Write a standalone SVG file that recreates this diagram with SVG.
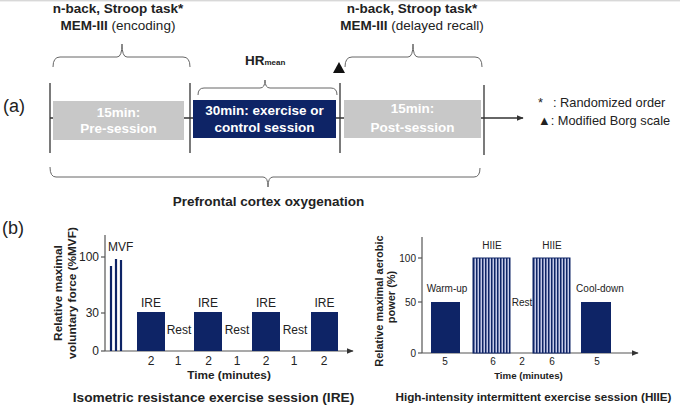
<svg xmlns="http://www.w3.org/2000/svg" width="680" height="407" viewBox="0 0 680 407">
<style>
text{font-family:"Liberation Sans",Arial,sans-serif;fill:#222}
.b{font-weight:bold}
.top{font-size:13.5px}
.box{font-size:13.5px;font-weight:bold;fill:#fff}
.leg{font-size:12.8px}
.lbl{font-size:18px}
.brace{fill:none;stroke:#666;stroke-width:1}
.tl{stroke:#333;stroke-width:1.3;fill:none}
.ax{stroke:#555;stroke-width:1.2;fill:none}
.navy{fill:#0e2466}
.t12{font-size:12px}
.t10{font-size:10px}
.mvf{stroke:#0e2466;stroke-width:2.2}
</style>
<defs>
<marker id="arr" viewBox="0 0 10 10" refX="9" refY="5" markerWidth="7" markerHeight="7" markerUnits="userSpaceOnUse" orient="auto">
<path d="M0,1 L10,5 L0,9 Z" fill="#333"/>
</marker>
<pattern id="stripes" patternUnits="userSpaceOnUse" x="473" y="0" width="3" height="10">
<rect x="0" y="0" width="3" height="10" fill="#c5cae8"/>
<rect x="0" y="0" width="1.5" height="10" fill="#0e2466"/>
</pattern>
</defs>
<rect x="0" y="0" width="680" height="407" fill="#fff"/>
<line x1="0" y1="0.8" x2="680" y2="0.8" stroke="#c8c8c8" stroke-width="1"/>

<!-- panel labels -->
<text class="lbl" x="3" y="112">(a)</text>
<text class="lbl" x="2" y="234">(b)</text>

<!-- top annotations -->
<g id="pre-tasks">
<text class="top b" x="118" y="12.5" text-anchor="middle">n-back, Stroop task*</text>
<text class="top" x="118" y="29.5" text-anchor="middle"><tspan class="b">MEM-III</tspan> (encoding)</text>
<path class="brace" d="M53,67 Q53,57 60,57 L117,57 Q122,57 122,44 Q122,57 127,57 L183,57 Q190,57 190,67"/>
</g>
<g id="hr-mean">
<text class="top b" x="245" y="65">HR<tspan font-size="8">mean</tspan></text>
<path class="brace" d="M198,95 Q198,88 204,88 L260,88 Q265,88 265,80 Q265,88 270,88 L331,88 Q337,88 337,95"/>
</g>
<g id="borg-marker">
<polygon points="333,73 345,73 339,62" fill="#111"/>
</g>
<g id="post-tasks">
<text class="top b" x="412" y="12.5" text-anchor="middle">n-back, Stroop task*</text>
<text class="top" x="412" y="29.5" text-anchor="middle"><tspan class="b">MEM-III</tspan> (delayed recall)</text>
<path class="brace" d="M345,67 Q345,57 352,57 L408,57 Q413,57 413,44 Q413,57 418,57 L475,57 Q482,57 482,67"/>
</g>

<!-- timeline connectors -->
<g id="timeline">
<line class="tl" x1="50" y1="118" x2="523" y2="118" marker-end="url(#arr)"/>
<line class="tl" x1="50" y1="83" x2="50" y2="153"/>
<line class="tl" x1="190" y1="83" x2="190" y2="153"/>
<line class="tl" x1="340" y1="83" x2="340" y2="153"/>
<line class="tl" x1="484" y1="85" x2="484" y2="155"/>
</g>

<g id="pre-session">
<rect x="53" y="101" width="131" height="39" fill="#c8c8c8"/>
<text class="box" x="118.5" y="117" text-anchor="middle">15min:</text>
<text class="box" x="118.5" y="133" text-anchor="middle">Pre-session</text>
</g>
<g id="main-session">
<rect x="193" y="100" width="143" height="38" class="navy"/>
<text class="box" x="264.5" y="115" text-anchor="middle">30min: exercise or</text>
<text class="box" x="264.5" y="132" text-anchor="middle">control session</text>
</g>
<g id="post-session">
<rect x="344" y="100" width="137" height="38" fill="#c8c8c8"/>
<text class="box" x="412.5" y="113" text-anchor="middle">15min:</text>
<text class="box" x="412.5" y="131.5" text-anchor="middle">Post-session</text>
</g>

<g id="legend">
<text class="leg" x="538" y="107">*</text>
<text class="leg" x="553" y="107">: Randomized order</text>
<text class="leg" x="538" y="125">▲: Modified Borg scale</text>
</g>

<g id="oxygenation">
<path class="brace" d="M50,167 Q50,177 56,177 L263,177 Q268,177 268,187 Q268,177 273,177 L474,177 Q480,177 480,168"/>
<text class="top b" x="268.5" y="206" text-anchor="middle">Prefrontal cortex oxygenation</text>
</g>

<!-- IRE chart -->
<g id="ire-chart">
<line class="ax" x1="105" y1="235" x2="105" y2="351"/>
<line class="ax" x1="105" y1="351" x2="353" y2="351" marker-end="url(#arr)"/>
<line class="ax" x1="101" y1="257" x2="105" y2="257"/>
<line class="ax" x1="101" y1="313" x2="105" y2="313"/>
<line class="ax" x1="101" y1="351" x2="105" y2="351"/>
<text class="t12" x="99" y="261" text-anchor="end">100</text>
<text class="t12" x="99" y="317" text-anchor="end">30</text>
<text class="t12" x="99" y="355" text-anchor="end">0</text>
<text class="b" font-size="11.8" transform="translate(62,293) rotate(-90)" text-anchor="middle">Relative maximal</text>
<text class="b" font-size="11.8" transform="translate(76,293) rotate(-90)" text-anchor="middle">voluntary force (%MVF)</text>
<line class="mvf" x1="111" y1="266" x2="111" y2="351"/>
<line class="mvf" x1="116" y1="259" x2="116" y2="351"/>
<line class="mvf" x1="121" y1="260" x2="121" y2="351"/>
<text class="t12" x="108" y="251">MVF</text>
<rect class="navy" x="137" y="312" width="28" height="39"/>
<rect class="navy" x="194" y="312" width="28" height="39"/>
<rect class="navy" x="252" y="312" width="28" height="39"/>
<rect class="navy" x="311" y="312" width="27" height="39"/>
<text class="t12" x="151" y="307" text-anchor="middle">IRE</text>
<text class="t12" x="208" y="307" text-anchor="middle">IRE</text>
<text class="t12" x="266" y="307" text-anchor="middle">IRE</text>
<text class="t12" x="324.5" y="307" text-anchor="middle">IRE</text>
<text class="t12" x="179" y="334" text-anchor="middle">Rest</text>
<text class="t12" x="237" y="334" text-anchor="middle">Rest</text>
<text class="t12" x="295" y="334" text-anchor="middle">Rest</text>
<text class="t12" x="151" y="365" text-anchor="middle">2</text>
<text class="t12" x="178" y="365" text-anchor="middle">1</text>
<text class="t12" x="208.5" y="365" text-anchor="middle">2</text>
<text class="t12" x="237" y="365" text-anchor="middle">1</text>
<text class="t12" x="266" y="365" text-anchor="middle">2</text>
<text class="t12" x="294" y="365" text-anchor="middle">1</text>
<text class="t12" x="324" y="365" text-anchor="middle">2</text>
<text class="b" font-size="11.8" x="229" y="379" text-anchor="middle">Time (minutes)</text>
<text class="b" font-size="13.7" x="213.5" y="402" text-anchor="middle">Isometric resistance exercise session (IRE)</text>
</g>

<!-- HIIE chart -->
<g id="hiie-chart">
<line class="ax" x1="422" y1="237" x2="422" y2="353"/>
<line class="ax" x1="422" y1="353" x2="638" y2="353" marker-end="url(#arr)"/>
<line class="ax" x1="418" y1="258" x2="422" y2="258"/>
<line class="ax" x1="418" y1="302" x2="422" y2="302"/>
<line class="ax" x1="418" y1="353" x2="422" y2="353"/>
<text class="t10" font-size="10.5" x="416" y="261.5" text-anchor="end">100</text>
<text class="t10" font-size="10.5" x="416" y="305.5" text-anchor="end">50</text>
<text class="t10" font-size="10.5" x="416" y="356.5" text-anchor="end">0</text>
<text class="b" font-size="11" transform="translate(383,301) rotate(-90)" text-anchor="middle">Relative maximal aerobic</text>
<text class="b" font-size="11" transform="translate(395,297) rotate(-90)" text-anchor="middle">power (%)</text>
<rect class="navy" x="431" y="302" width="29" height="51"/>
<rect x="473" y="258" width="37" height="95" fill="url(#stripes)" stroke="#0e2466" stroke-width="1"/>
<rect x="533" y="258" width="37" height="95" fill="url(#stripes)" stroke="#0e2466" stroke-width="1"/>
<rect class="navy" x="581" y="302" width="30" height="51"/>
<text class="t10" x="447" y="292" text-anchor="middle">Warm-up</text>
<text class="t10" x="492" y="249" text-anchor="middle">HIIE</text>
<text class="t10" x="522" y="306" text-anchor="middle">Rest</text>
<text class="t10" x="552" y="249" text-anchor="middle">HIIE</text>
<text class="t10" x="600" y="292" text-anchor="middle">Cool-down</text>
<text class="t10" x="445" y="365" text-anchor="middle">5</text>
<text class="t10" x="493" y="365" text-anchor="middle">6</text>
<text class="t10" x="522" y="365" text-anchor="middle">2</text>
<text class="t10" x="552" y="365" text-anchor="middle">6</text>
<text class="t10" x="597" y="365" text-anchor="middle">5</text>
<text class="b" font-size="9.7" x="528.5" y="379" text-anchor="middle">Time (minutes)</text>
<text class="b" font-size="11.7" x="533.5" y="401" text-anchor="middle">High-intensity intermittent exercise session (HIIE)</text>
</g>
</svg>
